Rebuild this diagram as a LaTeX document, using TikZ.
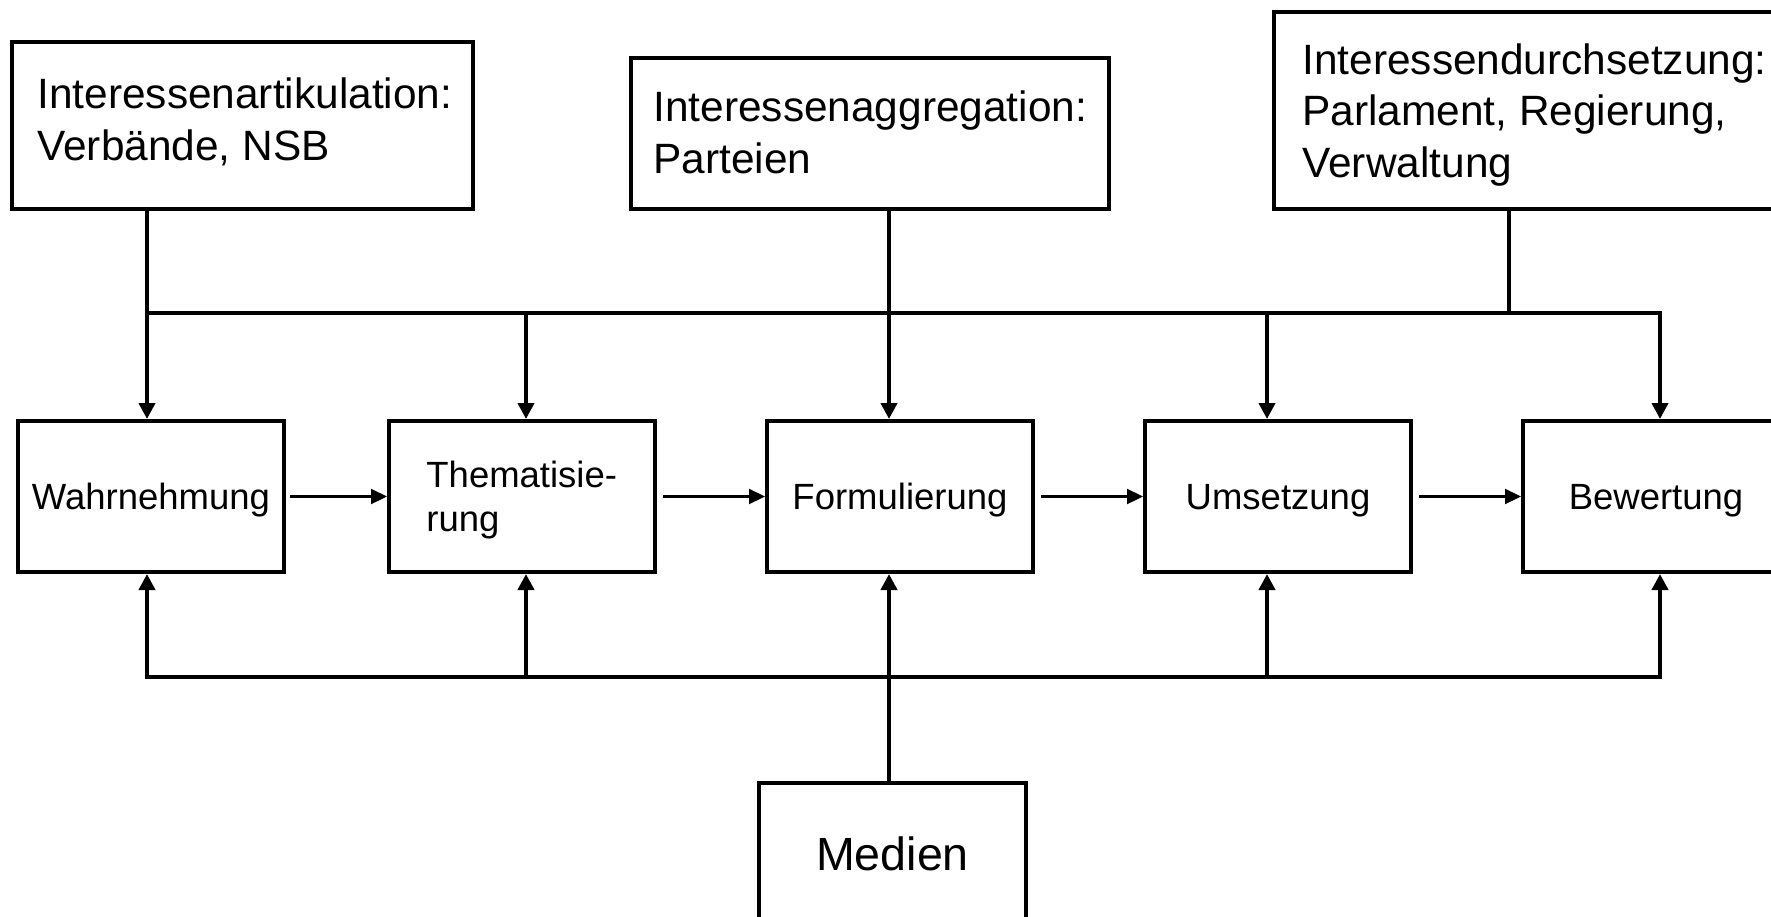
\documentclass[tikz,border=0pt]{standalone}
\usepackage{fontspec}
\setmainfont{Liberation Sans}
\usetikzlibrary{arrows.meta}
\begin{document}
\begin{tikzpicture}[x=0.5pt,y=-0.5pt,
  box/.style={draw, line width=2pt, rectangle, inner sep=0pt},
  midbox/.style={box, minimum width=133pt, minimum height=75.5pt,
    font=\fontsize{18.25pt}{22pt}\selectfont, text height=13pt, text depth=0pt},
  toptext/.style={anchor=base west, inner sep=0pt, align=left,
    font=\fontsize{21.2pt}{25.75pt}\selectfont},
  feed/.style={line width=2.4pt, line cap=rect},
  feedarrow/.style={feed, -{Triangle[length=8pt,width=8pt]}},
  flowarrow/.style={line width=1.1pt, -{Triangle[length=8pt,width=7.5pt]}}
]
\useasboundingbox (0,0) rectangle (1771,916);
\fill[white] (0,0) rectangle (1771,916);
\clip (0,0) rectangle (1771,916);

% column and bar coordinates
\coordinate (c1) at (147,0);
\coordinate (c2) at (526,0);
\coordinate (c3) at (889,0);
\coordinate (c4) at (1267,0);
\coordinate (c5) at (1660,0);
\coordinate (cd) at (1509,0);
\coordinate (tbar) at (0,313);
\coordinate (bbar) at (0,677);

% top boxes
\node[box, minimum width=230.5pt, minimum height=83.5pt] (artic) at (242.5,125.5) {};
\node[box, minimum width=239pt, minimum height=75.5pt] (aggr) at (870,133.5) {};
\node[box, minimum width=268pt, minimum height=98.5pt] (durch) at (1542,110.5) {};
\node[toptext] (artictext) at (37,160) {Interessenartikulation:\\Verbände, NSB};
\node[toptext] (aggrtext) at (653,173) {Interessenaggregation:\\Parteien};
\node[toptext] (durchtext) at (1302,177) {Interessendurchsetzung:\\Parlament, Regierung,\\Verwaltung};

% middle row
\node[midbox] (wahr) at (151,496.5) {Wahrnehmung};
\node[midbox] (them) at (522,496.5) {};
\node[anchor=base west, inner sep=0pt, align=left,
  font=\fontsize{18.25pt}{22pt}\selectfont] (themtext) at (426,531) {Thematisie-\\rung};
\node[midbox] (form) at (900,496.5) {Formulierung};
\node[midbox] (ums) at (1278,496.5) {Umsetzung};
\node[midbox] (bew) at (1656,496.5) {Bewertung};

% media
\node[box, minimum width=133.5pt, minimum height=75.5pt,
  font=\fontsize{23.3pt}{28pt}\selectfont, text height=11.5pt, text depth=0pt]
  (medien) at (892.5,858.5) {Medien};

% top distribution
\draw[feed] (c1 |- tbar) -- (c5 |- tbar);
\draw[feedarrow] (artic.south -| c1) -- (wahr.north -| c1);
\draw[feedarrow] (aggr.south -| c3) -- (form.north -| c3);
\draw[feed] (durch.south -| cd) -- (cd |- tbar);
\draw[feedarrow] (c2 |- tbar) -- (them.north -| c2);
\draw[feedarrow] (c4 |- tbar) -- (ums.north -| c4);
\draw[feedarrow] (c5 |- tbar) -- (bew.north -| c5);

% bottom distribution
\draw[feed] (c1 |- bbar) -- (c5 |- bbar);
\draw[feedarrow] (c1 |- bbar) -- (wahr.south -| c1);
\draw[feedarrow] (c2 |- bbar) -- (them.south -| c2);
\draw[feedarrow] (c4 |- bbar) -- (ums.south -| c4);
\draw[feedarrow] (c5 |- bbar) -- (bew.south -| c5);
\draw[feedarrow] (medien.north -| c3) -- (form.south -| c3);

% process flow
\draw[flowarrow] ([xshift=2pt]wahr.east) -- (them.west);
\draw[flowarrow] ([xshift=3pt]them.east) -- (form.west);
\draw[flowarrow] ([xshift=3pt]form.east) -- (ums.west);
\draw[flowarrow] ([xshift=3pt]ums.east) -- (bew.west);
\end{tikzpicture}
\end{document}
